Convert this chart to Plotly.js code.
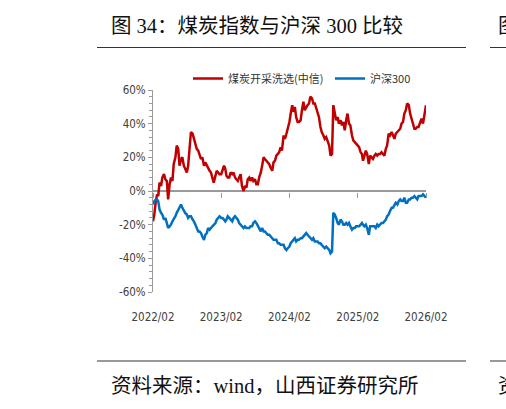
<!DOCTYPE html>
<html>
<head>
<meta charset="utf-8">
<script src="https://cdn.plot.ly/plotly-3.0.1.min.js"></script>
<style>
html,body{margin:0;padding:0;background:#fff;}
#chart{width:506px;height:409px;}
</style>
</head>
<body>
<div id="chart"></div>
<script>
// ---- data ----
var dates = [
"2022-02-01","2022-02-08","2022-02-16","2022-02-23","2022-03-01","2022-03-08","2022-03-16","2022-03-23",
"2022-04-01","2022-04-08","2022-04-16","2022-04-23","2022-05-01","2022-05-08","2022-05-16","2022-05-23",
"2022-06-01","2022-06-08","2022-06-16","2022-06-23","2022-07-01","2022-07-08","2022-07-16","2022-07-23",
"2022-08-01","2022-08-08","2022-08-16","2022-08-23","2022-09-01","2022-09-08","2022-09-16","2022-09-23",
"2022-10-01","2022-10-08","2022-10-16","2022-10-23","2022-11-01","2022-11-08","2022-11-16","2022-11-23",
"2022-12-01","2022-12-08","2022-12-16","2022-12-23","2023-01-01","2023-01-08","2023-01-16","2023-01-23",
"2023-02-01","2023-02-08","2023-02-16","2023-02-23","2023-03-01","2023-03-08","2023-03-16","2023-03-23",
"2023-04-01","2023-04-08","2023-04-16","2023-04-23","2023-05-01","2023-05-08","2023-05-16","2023-05-23",
"2023-06-01","2023-06-08","2023-06-16","2023-06-23","2023-07-01","2023-07-08","2023-07-16","2023-07-23",
"2023-08-01","2023-08-08","2023-08-16","2023-08-23","2023-09-01","2023-09-08","2023-09-16","2023-09-23",
"2023-10-01","2023-10-08","2023-10-16","2023-10-23","2023-11-01","2023-11-08","2023-11-16","2023-11-23",
"2023-12-01","2023-12-08","2023-12-16","2023-12-23","2024-01-01","2024-01-08","2024-01-16","2024-01-23",
"2024-02-01","2024-02-08","2024-02-16","2024-02-23","2024-03-01","2024-03-08","2024-03-16","2024-03-23",
"2024-04-01","2024-04-08","2024-04-16","2024-04-23","2024-05-01","2024-05-08","2024-05-16","2024-05-23",
"2024-06-01","2024-06-08","2024-06-16","2024-06-23","2024-07-01","2024-07-08","2024-07-16","2024-07-23",
"2024-08-01","2024-08-08","2024-08-16","2024-08-23","2024-09-01","2024-09-08","2024-09-16","2024-09-23",
"2024-10-01","2024-10-08","2024-10-16","2024-10-23","2024-11-01","2024-11-08","2024-11-16","2024-11-23",
"2024-12-01","2024-12-08","2024-12-16","2024-12-23","2025-01-01","2025-01-08","2025-01-16","2025-01-23",
"2025-02-01","2025-02-08","2025-02-16","2025-02-23","2025-03-01","2025-03-08","2025-03-16","2025-03-23",
"2025-04-01","2025-04-08","2025-04-16","2025-04-23","2025-05-01","2025-05-08","2025-05-16","2025-05-23",
"2025-06-01","2025-06-08","2025-06-16","2025-06-23","2025-07-01","2025-07-08","2025-07-16","2025-07-23",
"2025-08-01","2025-08-08","2025-08-16","2025-08-23","2025-09-01","2025-09-08","2025-09-16","2025-09-23",
"2025-10-01","2025-10-08","2025-10-16","2025-10-23","2025-11-01","2025-11-08","2025-11-16","2025-11-23",
"2025-12-01","2025-12-08","2025-12-16","2025-12-23","2026-01-01","2026-01-08","2026-01-16","2026-01-23",
"2026-02-01"
];
var coal = [
-18,-14,-6,-2,  -3,5,3,8,  10,7,6,-5,  4,8,6,16,
20,27,25,15,  19,20,15,13,  11,15,24,35,  34,31,28,25,
24,22,19,20,  15,17,15,13,  12,11,7,5,  9,12,11,10,
10,12,15,13,  9,8,8,11,  10,11,8,7,  6,8,10,3,
0,3,2,7,  8,6,8,6,  7,4,4,8,  11,15,20,19,
18,17,16,14,  12,17,18,21,  22,23,26,24,  33,31,34,37,
41,46,51,47,  50,44,41,41,  42,48,53,48,  50,51,52,56,
55,52,52,49,  47,44,38,35,  33,31,32,30,  27,21,22,51,
47,42,44,40,  42,39,41,36,  42,46,40,39,  33,30,29,28,
27,26,23,22,  18,21,24,22,  16,21,20,19,  21,22,21,22,
22,23,22,21,  25,27,34,33,  35,33,31,34,  35,36,37,40,
41,46,48,52,  51,46,43,41,  37,37,38,38,  41,43,40,45,
51
];
var hs300 = [
-8,-6,-5,-5,  -6,-11,-13,-14,  -17,-16,-19,-22,  -21,-20,-18,-17,
-15,-13,-11,-9,  -8,-10,-12,-13,  -14,-16,-15,-15,  -17,-18,-20,-22,
-24,-24,-25,-27,  -29,-26,-25,-22,  -23,-22,-21,-20,  -19,-17,-16,-15,
-16,-16,-17,-18,  -17,-15,-16,-17,  -18,-16,-15,-16,  -17,-19,-20,-21,
-22,-21,-22,-22,  -22,-21,-21,-19,  -18,-19,-21,-22,  -24,-22,-24,-24,
-25,-26,-26,-27,  -28,-29,-29,-29,  -31,-31,-32,-32,  -32,-34,-35,-34,
-33,-31,-30,-29,  -28,-30,-29,-29,  -28,-28,-27,-26,  -25,-26,-27,-28,
-29,-28,-30,-30,  -30,-31,-31,-32,  -33,-34,-33,-34,  -35,-37,-36,-13,
-14,-16,-19,-20,  -17,-18,-20,-20,  -19,-20,-19,-21,  -23,-22,-22,-21,
-21,-21,-20,-19,  -20,-21,-20,-22,  -26,-21,-21,-21,  -21,-22,-20,-21,
-20,-19,-19,-18,  -17,-15,-14,-12,  -10,-10,-8,-7,  -8,-6,-5,-6,
-6,-4,-7,-7,  -5,-5,-4,-4,  -3,-4,-5,-3,  -3,-3,-2,-3,
-4
];
var seriesNames = ["煤炭开采洗选(中信)", "沪深300"];
var xTickVals = ["2022-02-01","2023-02-01","2024-02-01","2025-02-01","2026-02-01"];
var yTickVals = [-60,-40,-20,0,20,40,60];
var yTickText = ["-60%","-40%","-20%","0%","20%","40%","60%"];
var titleText = "图 34：煤炭指数与沪深 300 比较";
var sourceText = "资料来源：wind，山西证券研究所";

// ---- chart ----
var W = 506, H = 409;
function px(x){return x/W;}
function py(y){return 1 - y/H;}
var tickFont = {family:'"Liberation Sans Narrow","Arial Narrow","DejaVu Sans Condensed",sans-serif', size:11.5, color:'#404040'};
var cjkSerif = '"Liberation Serif","Times New Roman","Noto Sans CJK SC",serif';
var yTop = 90, yBot = 292;

var traces = [
  {x: dates, y: coal, name: seriesNames[0], type:'scatter', mode:'lines',
   line:{color:'#C00000', width:2.5}},
  {x: dates, y: hs300, name: seriesNames[1], type:'scatter', mode:'lines',
   line:{color:'#0070C0', width:2.5}},
  {x: [], y: [], xaxis:'x2', showlegend:false, hoverinfo:'skip'}
];

var layout = {
  width: W, height: H,
  margin:{l:0,r:0,t:0,b:0},
  paper_bgcolor:'#fff', plot_bgcolor:'rgba(0,0,0,0)',
  showlegend:true,
  legend:{orientation:'h', x:px(188), y:py(64), xanchor:'left', yanchor:'top',
          font:{family:'"Liberation Sans Narrow","Noto Sans CJK SC",sans-serif', size:11, color:'#333'},
          itemwidth:30, entrywidth:97, bgcolor:'rgba(0,0,0,0)'},
  xaxis:{type:'date', domain:[px(153), px(426)], range:['2022-02-01','2026-02-01'],
         tickvals:xTickVals, tickformat:'%Y/%m', ticks:'', showline:false, showgrid:false,
         zeroline:false, tickfont:tickFont, ticklabelstandoff:16, anchor:'y'},
  xaxis2:{type:'date', overlaying:'x', matches:'x', anchor:'free', position:py(191.5),
          side:'bottom', tickvals:xTickVals, ticks:'outside', ticklen:5, tickwidth:1,
          tickcolor:'#9a9a9a', showticklabels:false, showline:false, showgrid:false, zeroline:false},
  yaxis:{domain:[py(yBot), py(yTop)], range:[-60,60], tickvals:yTickVals, ticktext:yTickText,
         ticks:'outside', ticklen:4, tickwidth:1, tickcolor:'#9a9a9a',
         minor:{dtick:4, tick0:0, ticks:'outside', ticklen:3, tickcolor:'#9a9a9a', showgrid:false},
         showline:true, linecolor:'#9a9a9a', linewidth:1, showgrid:false,
         zeroline:true, zerolinecolor:'#9a9a9a', zerolinewidth:1.2,
         tickfont:tickFont, ticklabelstandoff:0, fixedrange:true},
  shapes:[
    {type:'line', xref:'paper', yref:'paper', x0:px(97), x1:px(466), y0:py(47.5), y1:py(47.5), line:{color:'#333', width:1}},
    {type:'line', xref:'paper', yref:'paper', x0:px(490), x1:px(506), y0:py(47.5), y1:py(47.5), line:{color:'#333', width:1}},
    {type:'line', xref:'paper', yref:'paper', x0:px(97), x1:px(466), y0:py(361), y1:py(361), line:{color:'#333', width:1}},
    {type:'line', xref:'paper', yref:'paper', x0:px(490), x1:px(506), y0:py(361), y1:py(361), line:{color:'#333', width:1}}
  ],
  annotations:[
    {text:titleText, xref:'paper', yref:'paper', x:px(109), y:py(26), xanchor:'left', yanchor:'middle',
     showarrow:false, font:{family:cjkSerif, size:20.5, color:'#111'}},
    {text:sourceText, xref:'paper', yref:'paper', x:px(109), y:py(386), xanchor:'left', yanchor:'middle',
     showarrow:false, font:{family:cjkSerif, size:20.5, color:'#111'}},
    {text:'图', xref:'paper', yref:'paper', x:px(496), y:py(26), xanchor:'left', yanchor:'middle',
     showarrow:false, font:{family:cjkSerif, size:20.5, color:'#111'}},
    {text:'资', xref:'paper', yref:'paper', x:px(496), y:py(386), xanchor:'left', yanchor:'middle',
     showarrow:false, font:{family:cjkSerif, size:20.5, color:'#111'}}
  ]
};

Plotly.newPlot('chart', traces, layout, {staticPlot:true, displayModeBar:false});
</script>
</body>
</html>
